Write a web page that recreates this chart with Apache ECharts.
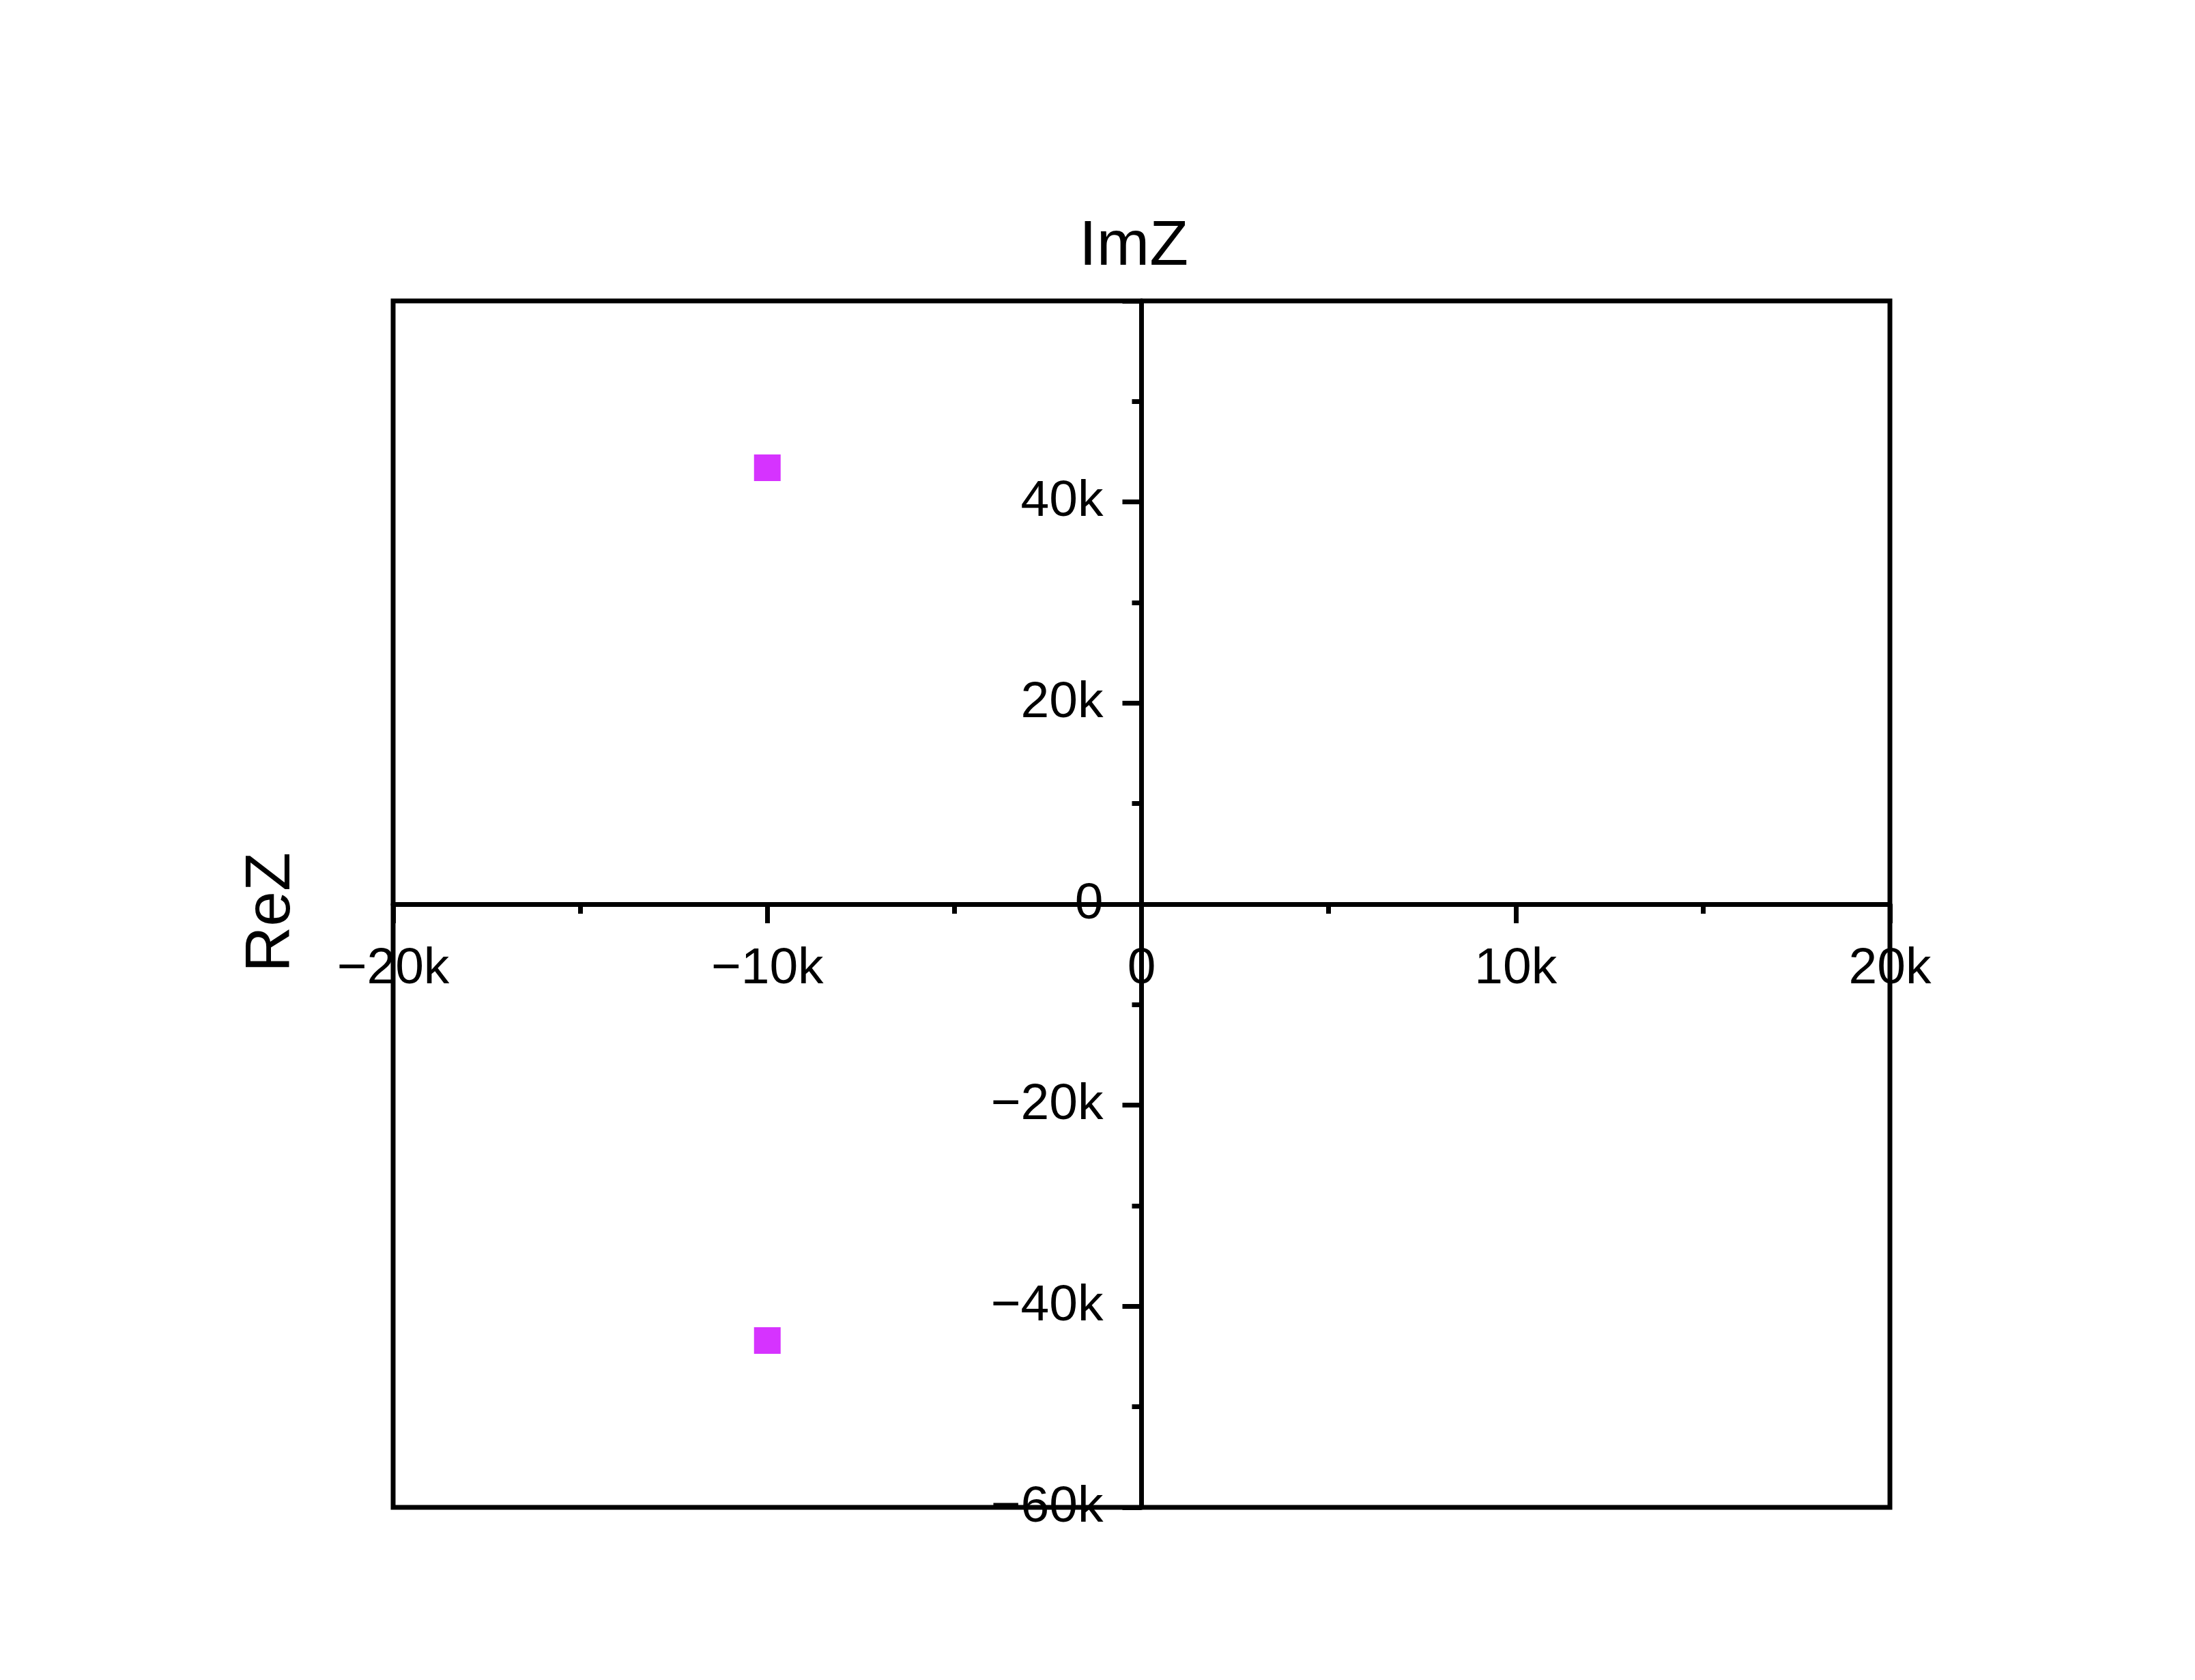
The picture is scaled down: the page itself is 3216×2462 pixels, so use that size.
<!DOCTYPE html>
<html>
<head>
<meta charset="utf-8">
<script src="https://cdn.jsdelivr.net/npm/echarts@6/dist/echarts.min.js"></script>
<style>html,body{margin:0;padding:0;background:#fff}#c{width:3216px;height:2462px}</style>
</head>
<body>
<div id="c"></div>
<script>
const xValues = [-10000, -10000];
const yValues = [43400, -43400];
const xAxisName = 'ReZ';
const yAxisName = 'ImZ';
const xRange = [-20000, 20000];
const yRange = [-60000, 60000];

const points = xValues.map((x, i) => [x, yValues[i]]);
const fmt = v => v === 0 ? '0' : (v < 0 ? '\u2212' : '') + (Math.abs(v) / 1000) + 'k';
const FONT = '"Liberation Sans", Arial, sans-serif';

const G = { left: 576, right: 447, top: 441, bottom: 253 };
const gw = 3216 - G.left - G.right, gh = 2462 - G.top - G.bottom;
const LW = 7;

const chart = echarts.init(document.getElementById('c'));
chart.setOption({
  animation: false,
  backgroundColor: '#fff',
  grid: Object.assign({ show: true, borderColor: '#000', borderWidth: LW, backgroundColor: 'transparent' }, G),
  xAxis: {
    type: 'value', min: xRange[0], max: xRange[1], interval: 10000,
    position: 'bottom', offset: -gh / 2,
    axisLine: { onZero: false, lineStyle: { color: '#000', width: LW } },
    axisTick: { show: true, inside: false, length: 28, lineStyle: { color: '#000', width: LW } },
    minorTick: { show: true, splitNumber: 2, length: 14, lineStyle: { color: '#000', width: LW } },
    splitLine: { show: false },
    axisLabel: { formatter: fmt, fontSize: 75, color: '#000', fontFamily: FONT, margin: 58, showMinLabel: true, showMaxLabel: true }
  },
  yAxis: {
    type: 'value', min: yRange[0], max: yRange[1], interval: 20000,
    position: 'left', offset: -gw / 2,
    axisLine: { onZero: false, lineStyle: { color: '#000', width: LW } },
    axisTick: { show: true, inside: false, length: 28, lineStyle: { color: '#000', width: LW } },
    minorTick: { show: true, splitNumber: 2, length: 14, lineStyle: { color: '#000', width: LW } },
    splitLine: { show: false },
    axisLabel: { formatter: fmt, fontSize: 75, color: '#000', fontFamily: FONT, margin: 56, showMinLabel: true, showMaxLabel: false }
  },
  graphic: [
    { type: 'text', x: 1661, y: 362, style: { text: yAxisName, align: 'center', verticalAlign: 'middle', font: '93px ' + FONT, fill: '#000' } },
    { type: 'text', x: 398, y: 1337, rotation: Math.PI / 2, style: { text: xAxisName, align: 'center', verticalAlign: 'middle', font: '93px ' + FONT, fill: '#000' } }
  ],
  series: [{
    type: 'scatter', data: points, symbol: 'rect', symbolSize: 39,
    itemStyle: { color: '#D633FF', opacity: 1 }
  }]
});
</script>
</body>
</html>
